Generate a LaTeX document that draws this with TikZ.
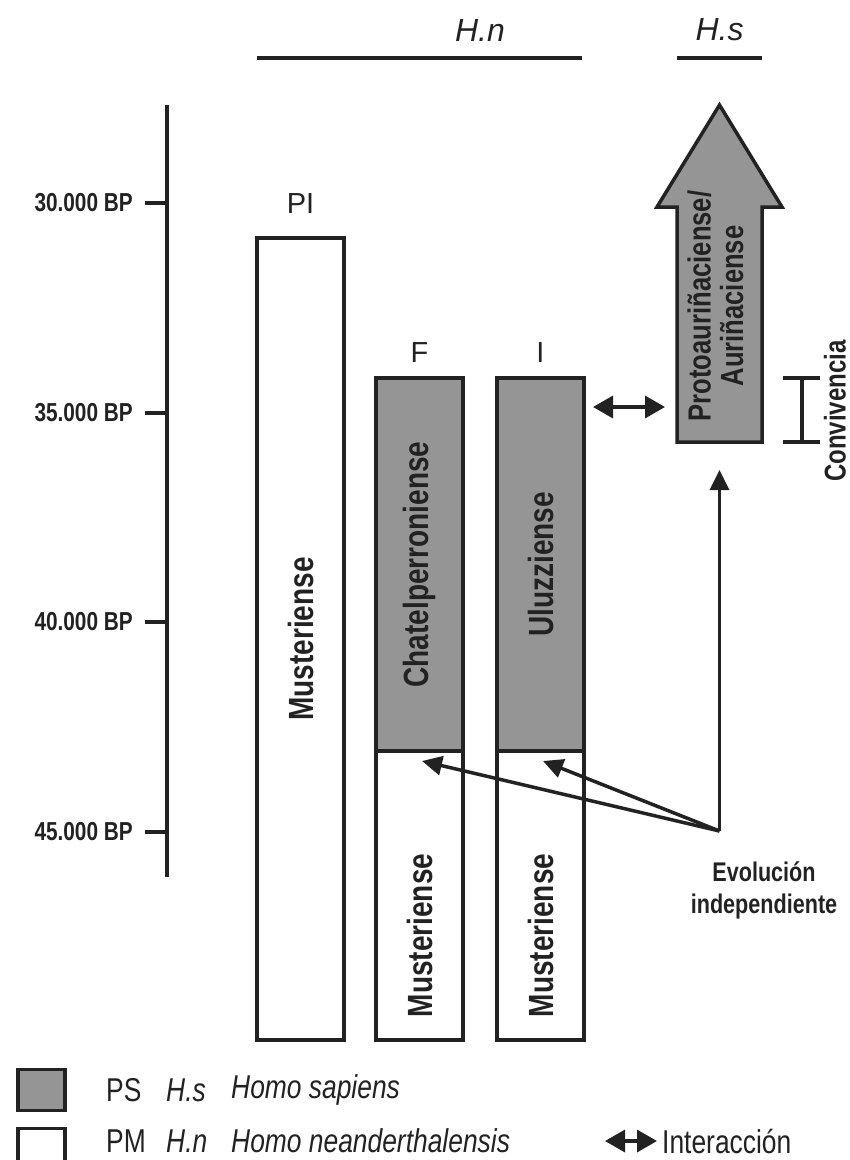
\documentclass[tikz,border=0pt]{standalone}
\usepackage{fontspec}
\setmainfont{Liberation Sans}
\usetikzlibrary{arrows.meta, positioning}
\definecolor{pgray}{HTML}{959595}
\definecolor{pline}{HTML}{222222}
\newcommand{\condtext}[1]{\scalebox{0.8}[1]{#1}}
\newcommand{\twolines}[2]{\condtext{\begin{tabular}{@{}c@{}}#1\\#2\end{tabular}}}
\tikzstyle{period} = [rectangle, draw=pline, line width=3.5pt, minimum width=87pt, inner sep=0pt, outer sep=0pt, text=pline, font=\fontsize{35}{40}\selectfont\bfseries]
\tikzstyle{sapiens} = [period, fill=pgray]
\tikzstyle{nean} = [period, fill=white]
\tikzstyle{lbl} = [inner sep=0pt, text=pline, font=\fontsize{35}{40}\selectfont\bfseries]
\tikzstyle{tag} = [inner sep=0pt, text=pline, font=\fontsize{29}{34}\selectfont]
\tikzstyle{date} = [anchor=east, inner sep=0pt, text=pline, font=\fontsize{26}{30}\selectfont\bfseries]
\tikzstyle{key} = [anchor=west, inner sep=0pt, text=pline, font=\fontsize{33}{38}\selectfont]
\tikzstyle{rule} = [line width=3.5pt, draw=pline]
\tikzstyle{link} = [rule, -{Triangle[length=20pt, width=19pt]}]
\tikzstyle{both} = [rule, {Triangle[length=20pt, width=22pt]}-{Triangle[length=20pt, width=22pt]}]

\begin{document}
\begin{tikzpicture}[x=1pt, y=-1pt]
  \useasboundingbox (0,0) rectangle (850,1160);
  % time axis
  \coordinate (axtop) at (167,105);
  \coordinate (axbot) at (167,877);
  \draw [rule] (axtop) -- (axbot);
  \foreach \y/\k in {203/30, 413/35, 622/40, 832/45} {
    \coordinate (tk\k) at (167,\y);
    \node (d\k) [date] at (133,\y) {\condtext{\k.000 BP}};
    \draw [rule] (tk\k) -- ([xshift=12pt]d\k.east);
  }
  % headers
  \node (hn) [tag, font=\fontsize{32}{36}\selectfont\itshape] at (480,30) {H.n};
  \node (hs) [tag, font=\fontsize{32}{36}\selectfont\itshape] at (719.5,30) {H.s};
  \draw [rule] (257,58) -- (582,58);
  \draw [rule] (677,58) -- (762,58);
  % industries
  \node (pi) [nean, minimum height=802pt] at (300.5,639) {\rotatebox{90}{\condtext{Musteriense}}};
  \node (chatG) [sapiens, minimum height=373pt] at (419.5,564.5) {\rotatebox{90}{\condtext{Chatelperroniense}}};
  \node (chatM) [nean, minimum height=289pt, below=0pt of chatG] {};
  \node (uluG) [sapiens, minimum height=373pt, right=34pt of chatG] {\rotatebox{90}{\condtext{Uluzziense}}};
  \node (uluM) [nean, minimum height=289pt, below=0pt of uluG] {};
  \node (chatMt) [lbl] at ([yshift=-40pt]chatM.center) {\rotatebox{90}{\condtext{Musteriense}}};
  \node (uluMt) [lbl] at ([yshift=-40pt]uluM.center) {\rotatebox{90}{\condtext{Musteriense}}};
  \node (piLab) [tag, above=24pt of pi] {PI};
  \node (fLab) [tag, above=15pt of chatG] {F};
  \node (iLab) [tag, above=15pt of uluG] {I};
  % aurignacian arrow
  \draw [rule, fill=pgray, line join=miter] (677,442) -- (677,207) -- (657,207) -- (719.5,105)
    -- (782,207) -- (762,207) -- (762,442) -- cycle;
  \node (auri) [lbl, font=\fontsize{32}{31}\selectfont\bfseries] at (720,306)
    {\rotatebox{90}{\twolines{Protoauriñaciense/}{Auriñaciense}}};
  \coordinate (auriFoot) at (719.5,470);
  % interaction
  \coordinate (interA) at (593,407);
  \coordinate (interB) at (665,407);
  \draw [both] (interA) -- (interB);
  % coexistence
  \coordinate (convTop) at (802,378);
  \coordinate (convBot) at (802,442);
  \draw [rule] (convTop) -- (convBot);
  \draw [rule] ([xshift=-19pt]convTop) -- ([xshift=18pt]convTop);
  \draw [rule] ([xshift=-19pt]convBot) -- ([xshift=18pt]convBot);
  \node (conv) [lbl, font=\fontsize{30}{34}\selectfont\bfseries] at (835,411) {\rotatebox{90}{\condtext{Convivencia}}};
  % independent evolution
  \coordinate (fork) at (719.5,831);
  \coordinate (chatTip) at (422,761);
  \coordinate (uluTip) at (543,761);
  \node (evo) [lbl, font=\fontsize{27}{32}\selectfont\bfseries] at (764,891) {\twolines{Evolución}{independiente}};
  \draw [link] (fork) -- (chatTip);
  \draw [link] (fork) -- (uluTip);
  \draw [link] (fork) -- (auriFoot);
  % legend
  \node (keyS) [sapiens, minimum width=47pt, minimum height=41pt] at (41.5,1090) {};
  \node (keyN) [nean, minimum width=47pt, minimum height=41pt] at (41.5,1149) {};
  \node (ps) [key] at (106,1090) {\condtext{PS}};
  \node (hsKey) [key, font=\fontsize{33}{38}\selectfont\itshape] at (166,1090) {\condtext{H.s}};
  \node (hsName) [key, font=\fontsize{33}{38}\selectfont\itshape] at (231,1090) {\condtext{Homo sapiens}};
  \node (pm) [key] at (106,1141) {\condtext{PM}};
  \node (hnKey) [key, font=\fontsize{33}{38}\selectfont\itshape] at (166,1141) {\condtext{H.n}};
  \node (hnName) [key, font=\fontsize{33}{38}\selectfont\itshape] at (231,1141) {\condtext{Homo neanderthalensis}};
  \coordinate (keyA) at (605,1141);
  \coordinate (keyB) at (657,1141);
  \draw [both] (keyA) -- (keyB);
  \node (inter) [key] at (662,1141) {\condtext{Interacción}};
\end{tikzpicture}
\end{document}
